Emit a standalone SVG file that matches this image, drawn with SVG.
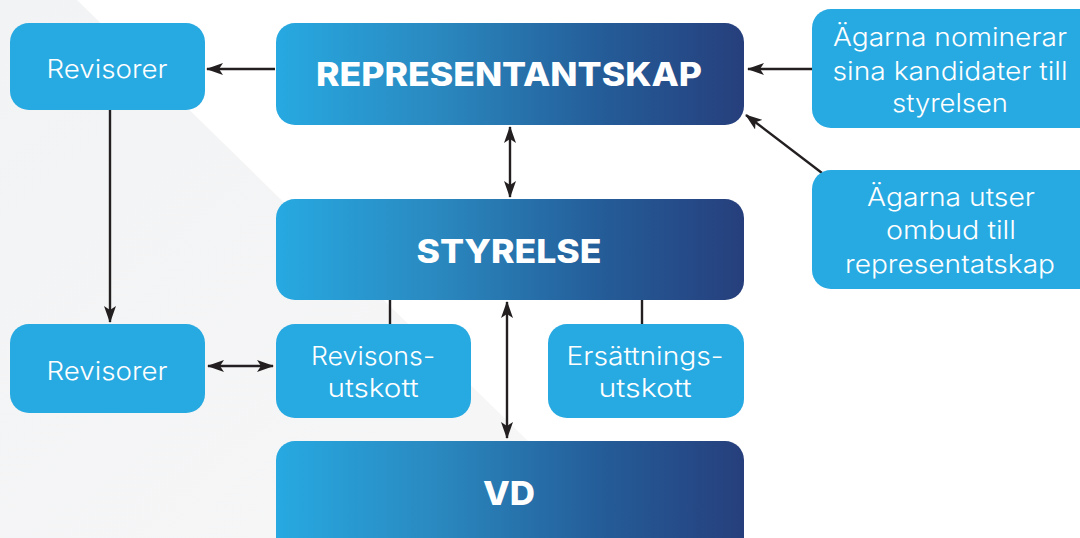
<svg xmlns="http://www.w3.org/2000/svg" width="1080" height="538" viewBox="0 0 1080 538">
<defs>
<linearGradient id="dark" x1="0" y1="0" x2="1" y2="0">
<stop offset="0" stop-color="#27a9e1"/>
<stop offset="0.35" stop-color="#2a88bf"/>
<stop offset="0.7" stop-color="#245c98"/>
<stop offset="1" stop-color="#263f7c"/>
</linearGradient>
<linearGradient id="bg" x1="0" y1="0" x2="1" y2="1">
<stop offset="0" stop-color="#f2f3f4"/>
<stop offset="1" stop-color="#f7f7f8"/>
</linearGradient>
<marker id="ah" viewBox="0 0 17 12" refX="16" refY="6" markerWidth="17" markerHeight="12" markerUnits="userSpaceOnUse" orient="auto-start-reverse">
<path d="M0,0 L17,6 L0,12 L4,6 z" fill="#231f20"/>
</marker>
<style>
.light{fill:#27a9e1}
.dark{fill:url(#dark)}
.t{font-family:Inter,"Noto Sans","Liberation Sans",sans-serif;font-weight:300;font-size:25.5px;fill:#fff;text-anchor:middle}
.h{font-family:Inter,"Noto Sans","Liberation Sans",sans-serif;font-weight:800;font-size:32px;fill:#fff;text-anchor:middle}
.c{stroke:#231f20;stroke-width:2.4;fill:none}
</style>
</defs>
<rect width="1080" height="538" fill="#fff"/>
<polygon points="0,0 77,0 627,538 0,538" fill="url(#bg)"/>

<g id="connectors">
<line class="c" x1="275" y1="69" x2="207" y2="69" marker-end="url(#ah)"/>
<line class="c" x1="110" y1="110" x2="110" y2="322" marker-end="url(#ah)"/>
<line class="c" x1="208" y1="366" x2="273" y2="366" marker-start="url(#ah)" marker-end="url(#ah)"/>
<line class="c" x1="510" y1="127" x2="510" y2="197" marker-start="url(#ah)" marker-end="url(#ah)"/>
<line class="c" x1="507" y1="302" x2="507" y2="438" marker-start="url(#ah)" marker-end="url(#ah)"/>
<line class="c" x1="390" y1="300" x2="390" y2="324"/>
<line class="c" x1="642" y1="300" x2="642" y2="324"/>
<line class="c" x1="812" y1="69" x2="748" y2="69" marker-end="url(#ah)"/>
<line class="c" x1="822" y1="173" x2="746" y2="115" marker-end="url(#ah)"/>
</g>

<g id="revisorer-top">
<rect class="light" x="10" y="23" width="195" height="87" rx="19"/>
<text class="t" x="107" y="78" textLength="121" lengthAdjust="spacingAndGlyphs">Revisorer</text>
</g>
<g id="representantskap">
<rect class="dark" x="276" y="23" width="468" height="102" rx="19"/>
<text class="h" x="509" y="86" textLength="386" lengthAdjust="spacingAndGlyphs">REPRESENTANTSKAP</text>
</g>
<g id="agarna-nominerar">
<rect class="light" x="812" y="9" width="290" height="119" rx="19"/>
<text class="t" x="950" y="46" textLength="234" lengthAdjust="spacingAndGlyphs">Ägarna nominerar</text>
<text class="t" x="950" y="80" textLength="235" lengthAdjust="spacingAndGlyphs">sina kandidater till</text>
<text class="t" x="950" y="112" textLength="116" lengthAdjust="spacingAndGlyphs">styrelsen</text>
</g>
<g id="agarna-utser">
<rect class="light" x="812" y="170" width="290" height="119" rx="19"/>
<text class="t" x="951" y="206" textLength="168" lengthAdjust="spacingAndGlyphs">Ägarna utser</text>
<text class="t" x="951" y="239" textLength="130" lengthAdjust="spacingAndGlyphs">ombud till</text>
<text class="t" x="950" y="273" textLength="210" lengthAdjust="spacingAndGlyphs">representatskap</text>
</g>
<g id="styrelse">
<rect class="dark" x="276" y="199" width="468" height="101" rx="19"/>
<text class="h" x="509" y="263" textLength="185" lengthAdjust="spacingAndGlyphs">STYRELSE</text>
</g>
<g id="revisorer-bottom">
<rect class="light" x="10" y="324" width="195" height="89" rx="19"/>
<text class="t" x="107" y="380" textLength="121" lengthAdjust="spacingAndGlyphs">Revisorer</text>
</g>
<g id="revisionsutskott">
<rect class="light" x="276" y="324" width="195" height="94" rx="19"/>
<text class="t" x="373" y="365" textLength="124" lengthAdjust="spacingAndGlyphs">Revisons-</text>
<text class="t" x="373" y="397" textLength="91" lengthAdjust="spacingAndGlyphs">utskott</text>
</g>
<g id="ersattningsutskott">
<rect class="light" x="548" y="324" width="196" height="94" rx="19"/>
<text class="t" x="645" y="365" textLength="157" lengthAdjust="spacingAndGlyphs">Ersättnings-</text>
<text class="t" x="645" y="397" textLength="93" lengthAdjust="spacingAndGlyphs">utskott</text>
</g>
<g id="vd">
<rect class="dark" x="276" y="441" width="468" height="120" rx="19"/>
<text class="h" x="509" y="505" textLength="52" lengthAdjust="spacingAndGlyphs">VD</text>
</g>
</svg>
